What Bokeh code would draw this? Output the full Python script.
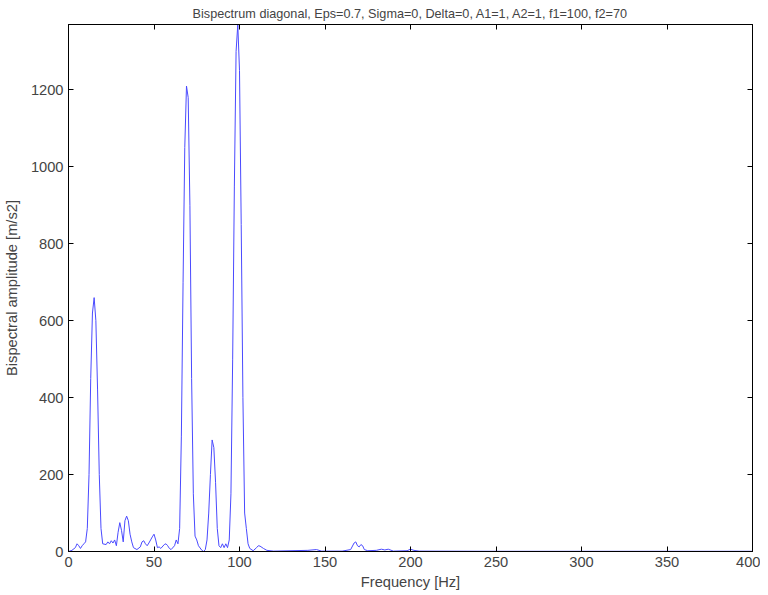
from bokeh.plotting import figure
from bokeh.models import Range1d, LinearAxis, FixedTicker
from bokeh.embed import file_html
from bokeh.resources import INLINE

freq = [0, 2, 4, 5, 6, 7, 8, 9, 10, 11, 12, 13, 14, 15, 16, 17, 18, 19, 20, 22, 23, 24, 25, 26, 27, 28,
        29, 30, 31, 32, 33, 34, 35, 36, 37, 38, 40, 42, 43, 44, 45, 46, 47, 48, 49, 50, 51, 52, 53, 54,
        56, 57, 58, 59, 60, 62, 63, 64, 65, 66, 67, 68, 69, 70, 71, 72, 73, 74, 75, 76, 78, 79, 80, 81,
        82, 83, 84, 85, 86, 87, 88, 89, 90, 91, 92, 93, 94, 95, 96, 97, 98, 99, 100, 101, 102, 103, 104,
        105, 106, 108, 110, 111, 112, 114, 116, 120, 140, 145, 148, 160, 165, 167, 168, 169, 170, 171,
        172, 173, 175, 180, 183, 185, 187, 190, 198, 200, 202, 205, 250, 300, 400]
amp = [0, 3, 10, 20, 15, 8, 15, 20, 25, 60, 200, 450, 620, 660, 600, 420, 200, 60, 20, 18, 25, 20, 28, 22,
       30, 15, 50, 75, 55, 25, 80, 92, 80, 45, 25, 10, 5, 12, 25, 28, 20, 15, 22, 30, 38, 45, 30, 10, 12,
       8, 18, 20, 15, 8, 5, 15, 30, 20, 60, 300, 700, 1050, 1210, 1180, 900, 450, 150, 40, 30, 15, 3, 0,
       5, 30, 100, 200, 290, 270, 180, 60, 15, 10, 20, 10, 20, 10, 30, 150, 500, 950, 1300, 1370, 1250,
       850, 400, 100, 60, 20, 8, 2, 10, 15, 14, 8, 3, 1, 3, 5, 1, 1, 5, 22, 25, 15, 12, 18, 15, 5, 2, 3,
       6, 4, 6, 1, 2, 6, 3, 1, 0.5, 0.5, 0.5]
x_ticks = [0, 50, 100, 150, 200, 250, 300, 350, 400]
y_ticks = [0, 200, 400, 600, 800, 1000, 1200]

p = figure(width=760, height=592, output_backend="svg", toolbar_location=None,
           x_range=Range1d(0, 400), y_range=Range1d(0, 1370),
           title="Bispectrum diagonal, Eps=0.7, Sigma=0, Delta=0, A1=1, A2=1, f1=100, f2=70",
           min_border_left=4, min_border_right=8, min_border_top=4, min_border_bottom=4)
p.title.align = "center"
p.title.text_font = "Arial"
p.title.text_font_size = "9.5pt"
p.title.text_font_style = "normal"
p.title.standoff = 8
p.grid.visible = False
p.outline_line_color = "black"
p.background_fill_color = "white"

p.line(freq, amp, line_color="#4a4aff", line_width=1)

p.xaxis.axis_label = "Frequency [Hz]"
p.yaxis.axis_label = "Bispectral amplitude [m/s2]"
p.xaxis.ticker = FixedTicker(ticks=x_ticks)
p.yaxis.ticker = FixedTicker(ticks=y_ticks)
for ax in [p.xaxis[0], p.yaxis[0]]:
    ax.major_tick_in = 5
    ax.major_tick_out = 0
    ax.minor_tick_line_color = None
    ax.axis_line_color = "black"
    ax.major_label_text_font = "Arial"
    ax.major_label_text_font_size = "11pt"
    ax.axis_label_text_font = "Arial"
    ax.axis_label_text_font_size = "11pt"
    ax.axis_label_text_font_style = "normal"
    ax.axis_label_standoff = 4
p.yaxis[0].axis_label_standoff = 8

# mirrored tick marks on top and right, labels hidden
top = LinearAxis(ticker=FixedTicker(ticks=x_ticks), major_label_text_font_size="0px",
                 major_tick_in=5, major_tick_out=0, minor_tick_line_color=None,
                 major_label_standoff=0)
right = LinearAxis(ticker=FixedTicker(ticks=y_ticks), major_label_text_font_size="0px",
                   major_tick_in=5, major_tick_out=0, minor_tick_line_color=None,
                   major_label_standoff=0)
p.add_layout(top, "above")
p.add_layout(right, "right")

open("out.html", "w").write(file_html(p, INLINE))
